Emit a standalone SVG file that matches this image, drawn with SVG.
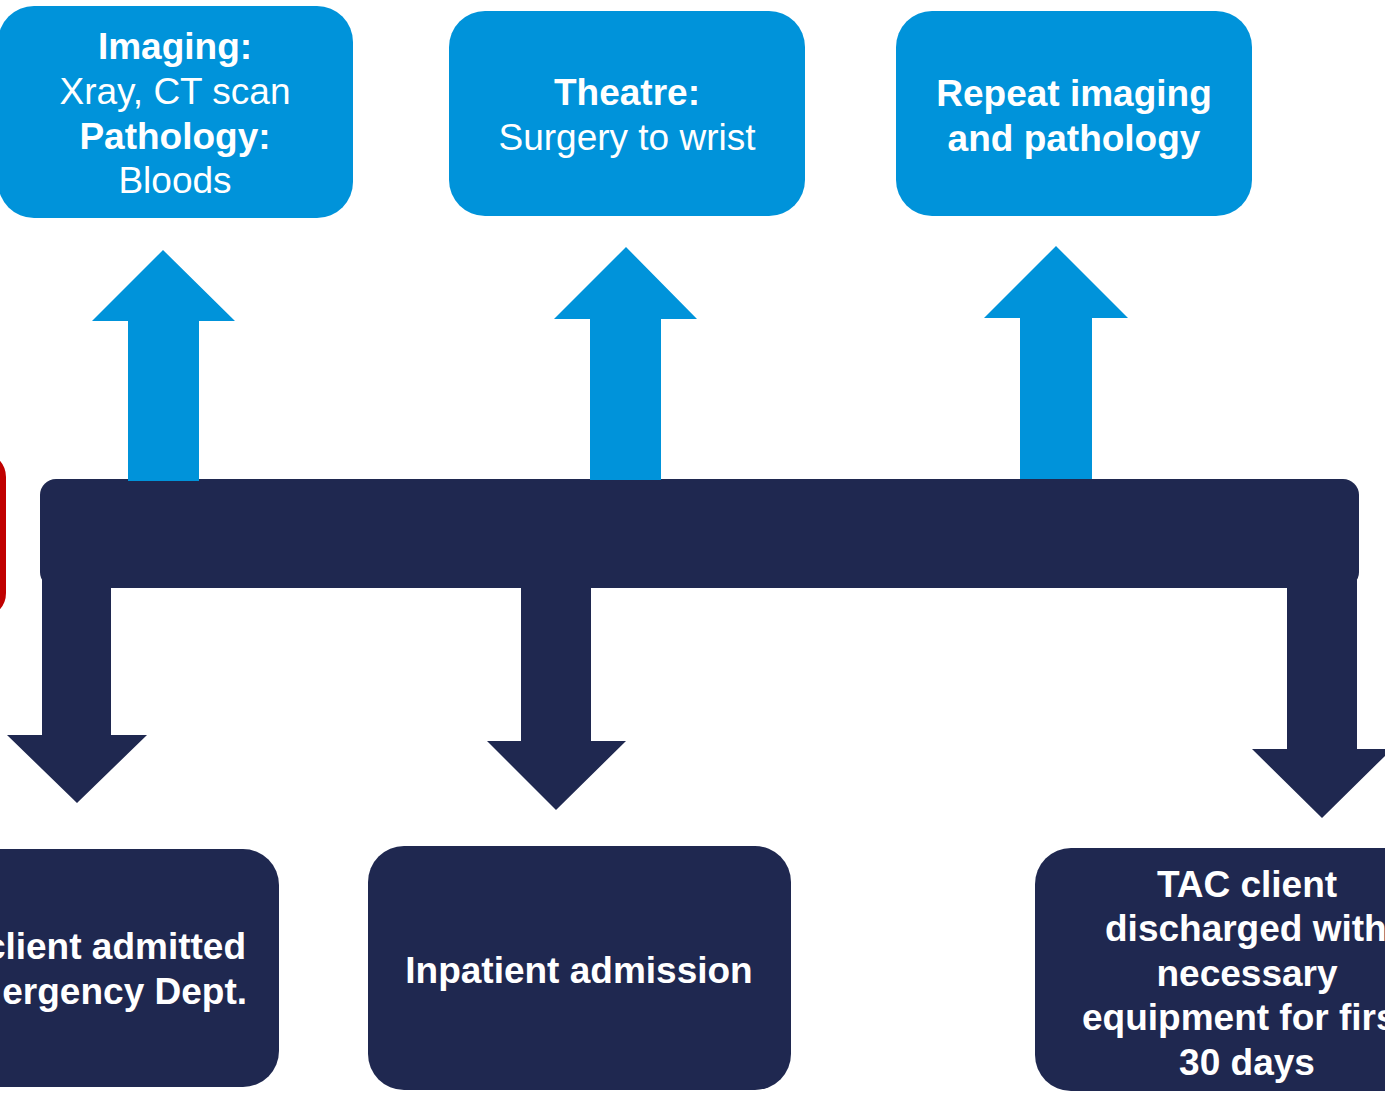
<svg xmlns="http://www.w3.org/2000/svg" width="1385" height="1093" viewBox="0 0 1385 1093">
<style>
.blue{fill:#0093da}
.dark{fill:#1f2850}
.t{font-family:"Liberation Sans",Arial,sans-serif;font-size:37px;fill:#ffffff;text-anchor:middle}
.b{font-weight:bold}
</style>
<rect width="1385" height="1093" fill="#ffffff"/>
<g id="red-box">
<rect x="-200" y="455" width="203" height="160" rx="22" fill="#ffffff" stroke="#c00000" stroke-width="6"/>
</g>
<g id="connectors">
<rect class="dark" x="40" y="479" width="1319" height="109" rx="16"/>
<polygon class="dark" points="42,577 111,577 111,735 147,735 77,803 7,735 42,735"/>
<polygon class="dark" points="521,580 591,580 591,741 626,741 556,810 487,741 521,741"/>
<polygon class="dark" points="1287,580 1357,580 1357,749 1392,749 1322,818 1252,749 1287,749"/>
<polygon class="blue" points="128,481 199,481 199,321 235,321 163,250 92,321 128,321"/>
<polygon class="blue" points="590,480 661,480 661,319 697,319 626,247 554,319 590,319"/>
<polygon class="blue" points="1020,479 1092,479 1092,318 1128,318 1056,246 984,318 1020,318"/>
</g>
<g id="imaging">
<rect class="blue" x="-2" y="6" width="355" height="212" rx="36"/>
<text class="t b" x="175" y="59">Imaging:</text>
<text class="t" x="175" y="104">Xray, CT scan</text>
<text class="t b" x="175" y="149">Pathology:</text>
<text class="t" x="175" y="193">Bloods</text>
</g>
<g id="theatre">
<rect class="blue" x="449" y="11" width="356" height="205" rx="36"/>
<text class="t b" x="627" y="105">Theatre:</text>
<text class="t" x="627" y="150">Surgery to wrist</text>
</g>
<g id="repeat">
<rect class="blue" x="896" y="11" width="356" height="205" rx="36"/>
<text class="t b" x="1074" y="106">Repeat imaging</text>
<text class="t b" x="1074" y="151">and pathology</text>
</g>
<g id="ed-admit">
<rect class="dark" x="-60" y="849" width="339" height="238" rx="36"/>
<text class="t b" x="246" y="959" style="text-anchor:end">client admitted</text>
<text class="t b" x="247" y="1004" style="text-anchor:end">ergency Dept.</text>
</g>
<g id="inpatient">
<rect class="dark" x="368" y="846" width="423" height="244" rx="36"/>
<text class="t b" x="579" y="983">Inpatient admission</text>
</g>
<g id="discharge">
<rect class="dark" x="1035" y="848" width="400" height="243" rx="36"/>
<text class="t b" x="1247" y="897">TAC client</text>
<text class="t b" x="1105" y="941" style="text-anchor:start">discharged with</text>
<text class="t b" x="1247" y="986">necessary</text>
<text class="t b" x="1082" y="1030" style="text-anchor:start">equipment for firs</text>
<text class="t b" x="1247" y="1075">30 days</text>
</g>
</svg>
